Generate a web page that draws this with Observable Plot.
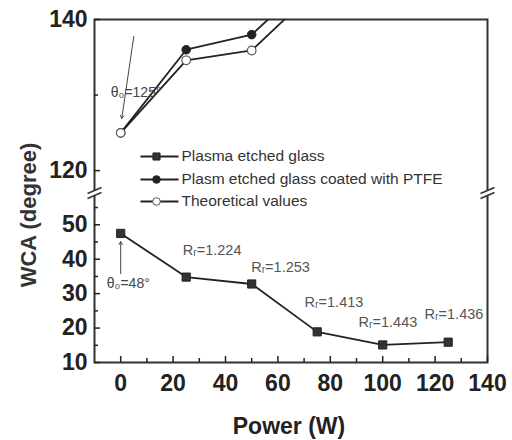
<!DOCTYPE html>
<html><head><meta charset="utf-8">
<script src="https://cdn.jsdelivr.net/npm/d3@7"></script>
<script src="https://cdn.jsdelivr.net/npm/@observablehq/plot@0.6"></script>
<style>
body{margin:0;background:#fff}
g[aria-label="ytitle"] text{letter-spacing:2px}
g[aria-label="ticklabels"] text{letter-spacing:-1.2px}
</style>
</head><body><div id="chart"></div>
<script>
// ---- data ----
const power = [0, 25, 50, 75, 100, 125];
const etched = [47.5, 34.8, 32.8, 18.9, 15.1, 15.9];
const coated = [125, 136.0, 138.0, 146, 152, 151];
const theoretical = [125, 134.6, 135.9, 144.1, 145.9, 145.5];
const seriesNames = ["Plasma etched glass", "Plasm etched glass coated with PTFE", "Theoretical values"];
const xTicks = [0, 20, 40, 60, 80, 100, 120, 140];
const xMinor = [10, 30, 50, 70, 90, 110, 130];
const yTicks = [10, 20, 30, 40, 50, 120, 140];
const yMinor = [15, 25, 35, 45, 55, 130];
const rLabels = ["Rᵣ=1.224", "Rᵣ=1.253", "Rᵣ=1.413", "Rᵣ=1.443", "Rᵣ=1.436"];
const rX = [34.9, 61, 81.4, 102, 127.2];
const rY = [42.5, 37.7, 27.5, 21.7, 24.1];
const thetaLabels = ["θ₀=125°", "θ₀=48°"];
const thetaX = [5.9, 2.9];
const thetaY = [130.3, 32.9];
const arrowX1 = [5, 0], arrowY1 = [137.75, 35.8], arrowX2 = [0.4, 0], arrowY2 = [126.9, 45.1];
const breakX = [-10, 140];

// ---- broken y axis: lower part 10..58.5, upper part 117.5..140 (stretched) ----
const LOW_TOP = 58.5, HIGH_BOTTOM = 117.5, GAP = 1.74, K = 2.1945;
const brk = v => v <= LOW_TOP ? v : LOW_TOP + GAP + (v - HIGH_BOTTOM) * K;
const unbrk = t => t <= LOW_TOP + GAP / 2 ? t : HIGH_BOTTOM + (t - LOW_TOP - GAP) / K;
const Y_MAX = brk(140);

const rows = power.map((p, i) => ({power: p, etched: etched[i], coated: brk(coated[i]), theoretical: brk(theoretical[i])}));
const rLab = rLabels.map((t, i) => ({t, x: rX[i], y: brk(rY[i])}));
const thLab = thetaLabels.map((t, i) => ({t, x: thetaX[i], y: brk(thetaY[i])}));
const arrows = arrowX1.map((d, i) => ({x1: d, y1: brk(arrowY1[i]), x2: arrowX2[i], y2: brk(arrowY2[i])}));
const breaks = breakX.map(x => ({x, y: LOW_TOP + GAP / 2}));

const SANS = "'Liberation Sans', Arial, sans-serif";
const INK = "#222";

const slashes = {draw(ctx) { ctx.moveTo(-7, 1); ctx.lineTo(7, -5); ctx.moveTo(-7, 6); ctx.lineTo(7, 0); }};
const gapShape = {draw(ctx) { ctx.moveTo(-8, 1); ctx.lineTo(8, -5.5); ctx.lineTo(8, 0); ctx.lineTo(-8, 6.5); ctx.closePath(); }};
const hline = {draw(ctx) { ctx.moveTo(-19, 0); ctx.lineTo(19, 0); }};

const legendMarks = [
  {symbol: "square", fill: "#333", stroke: INK, r: 4},
  {symbol: "circle", fill: "#222", stroke: INK, r: 3.8},
  {symbol: "circle", fill: "white", stroke: "#555", r: 3.8}
];
const legendDy = [137, 160, 182];

const marks = [
  Plot.frame({stroke: "#333", strokeWidth: 2}),
  Plot.dot(breaks, {x: "x", y: "y", symbol: gapShape, fill: "white", stroke: "none", r: 5}),
  Plot.dot(breaks, {x: "x", y: "y", symbol: slashes, fill: "none", stroke: "#333", strokeWidth: 1.6, r: 5}),
  // axes
  Plot.axisX(xTicks, {anchor: "bottom", tickSize: 0, tickPadding: 12, fontSize: 23, fontWeight: "bold", fontFamily: SANS, fill: INK, label: null, ariaLabel: "ticklabels"}),
  Plot.axisX(xTicks, {anchor: "bottom", tickSize: -6, text: null, stroke: INK, strokeWidth: 1.5, label: null}),
  Plot.axisX(xMinor, {anchor: "bottom", tickSize: -4, text: null, stroke: INK, strokeWidth: 1.5, label: null}),
  Plot.axisY(yTicks.map(brk), {anchor: "left", tickSize: 0, tickPadding: 7, fontSize: 23, fontWeight: "bold", fontFamily: SANS, fill: INK, label: null, ariaLabel: "ticklabels", tickFormat: t => String(Math.round(unbrk(t)))}),
  Plot.axisY(yTicks.map(brk), {anchor: "left", tickSize: -6, text: null, stroke: INK, strokeWidth: 1.5, label: null}),
  Plot.axisY(yMinor.map(brk), {anchor: "left", tickSize: -4, text: null, stroke: INK, strokeWidth: 1.5, label: null}),
  // axis titles
  Plot.text(["Power (W)"], {frameAnchor: "bottom", dy: 64, dx: -2, textAnchor: "middle", lineAnchor: "middle", fontSize: 23, fontWeight: "bold", fontFamily: SANS, fill: INK}),
  Plot.text(["WCA (degree)"], {frameAnchor: "left", dx: -66, dy: 24, rotate: -90, textAnchor: "middle", lineAnchor: "middle", fontSize: 22, fontWeight: "bold", fontFamily: SANS, fill: "#333", ariaLabel: "ytitle"}),
  // series
  Plot.line(rows, {x: "power", y: "etched", stroke: INK, strokeWidth: 1.8, clip: true}),
  Plot.line(rows, {x: "power", y: "coated", stroke: INK, strokeWidth: 1.8, clip: true}),
  Plot.line(rows, {x: "power", y: "theoretical", stroke: INK, strokeWidth: 1.8, clip: true}),
  Plot.dot(rows, {x: "power", y: "etched", symbol: "square", fill: "#333", stroke: INK, strokeWidth: 1, r: 4.6, clip: true}),
  Plot.dot(rows, {x: "power", y: "coated", symbol: "circle", fill: "#222", stroke: INK, strokeWidth: 1, r: 4.3, clip: true}),
  Plot.dot(rows, {x: "power", y: "theoretical", symbol: "circle", fill: "white", stroke: "#555", strokeWidth: 1.2, r: 4.3, clip: true}),
  // annotations
  Plot.arrow(arrows, {x1: "x1", y1: "y1", x2: "x2", y2: "y2", stroke: "#444", strokeWidth: 1, headLength: 5}),
  Plot.text(thLab, {x: "x", y: "y", text: "t", fontSize: 14, fontFamily: SANS, fill: "#444", lineAnchor: "middle"}),
  Plot.text(rLab, {x: "x", y: "y", text: "t", fontSize: 14.5, fontFamily: SANS, fill: "#555", lineAnchor: "middle"}),
  // legend
  ...seriesNames.flatMap((name, i) => [
    Plot.dot([name], {frameAnchor: "top-left", dx: 65, dy: legendDy[i], symbol: hline, stroke: INK, strokeWidth: 1.8, r: 5}),
    Plot.dot([name], {frameAnchor: "top-left", dx: 62, dy: legendDy[i], ...legendMarks[i], strokeWidth: 1}),
    Plot.text([name], {frameAnchor: "top-left", dx: 87, dy: legendDy[i], textAnchor: "start", lineAnchor: "middle", fontSize: 15.5, fontFamily: SANS, fill: "#333"})
  ])
];

const chart = Plot.plot({
  width: 512,
  height: 440,
  marginLeft: 94,
  marginRight: 25,
  marginTop: 19,
  marginBottom: 78,
  style: {background: "white", overflow: "visible"},
  x: {domain: [-10, 140]},
  y: {domain: [10, Y_MAX]},
  marks
});
document.getElementById("chart").appendChild(chart);
</script>
</body></html>
